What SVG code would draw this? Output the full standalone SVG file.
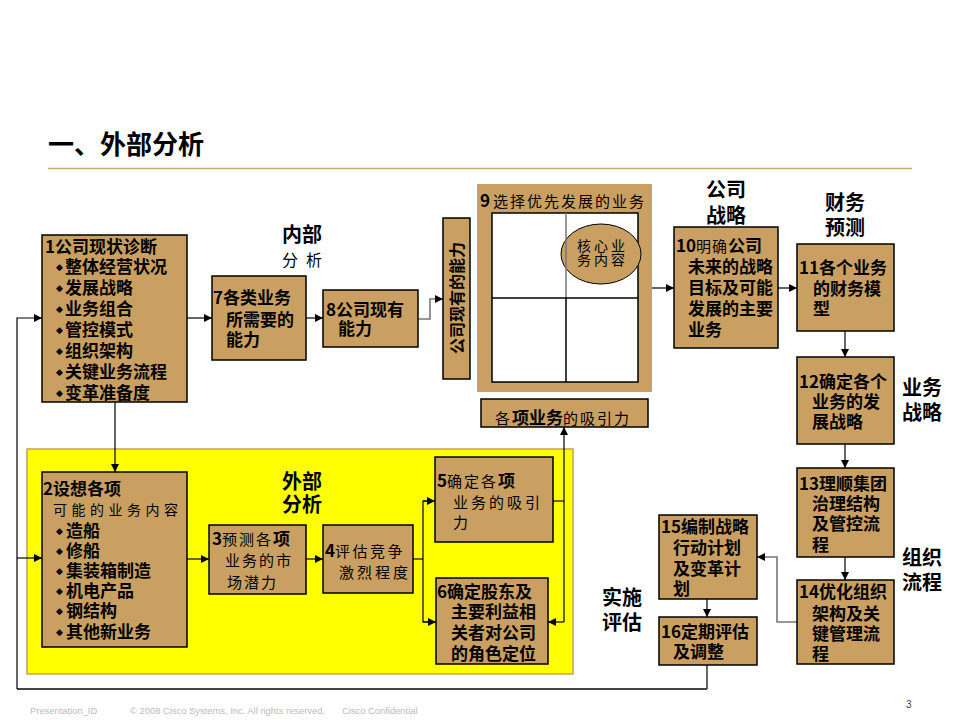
<svg xmlns="http://www.w3.org/2000/svg" width="960" height="720" viewBox="0 0 960 720">
<style>
.t{font-family:"Noto Sans CJK SC","Liberation Sans",sans-serif;font-size:17px;font-weight:700;fill:#000}
.n{font-weight:400;font-size:15px;letter-spacing:2px}
.lb{font-size:20px}
.bu{font-family:"DejaVu Sans",sans-serif;font-size:9px;font-weight:400}
.box{fill:#C9A062;stroke:#000;stroke-width:1.5}
.ln{fill:none;stroke:#000;stroke-width:1.2}
.gl{fill:none;stroke:#777;stroke-width:1.6}
.ft{font-family:"Liberation Sans",sans-serif;font-size:9.4px;fill:#bbb}
</style>
<defs>
<marker id="arr" viewBox="0 0 10 10" refX="10" refY="5" markerWidth="9" markerHeight="8" markerUnits="userSpaceOnUse" orient="auto"><path d="M0,0 L10,5 L0,10 z" fill="#000"/></marker>
</defs>
<rect width="960" height="720" fill="#fff"/>
<text class="t" x="48" y="154" style="font-size:26px">一、外部分析</text>
<line x1="48" y1="168.5" x2="912" y2="168.5" stroke="#C8A96A" stroke-width="1.5"/>

<rect id="yellow" x="27" y="449" width="546" height="225" fill="#FFFF00" stroke="#C8A060" stroke-width="1.5"/>

<g id="connectors">
<line class="ln" x1="187" y1="318" x2="212" y2="318" marker-end="url(#arr)"/>
<line class="ln" x1="306" y1="318" x2="323" y2="318" marker-end="url(#arr)"/>
<polyline class="gl" points="418,319 430,319 430,299 443,299" marker-end="url(#arr)"/>
<line class="ln" x1="652" y1="288" x2="674" y2="288" marker-end="url(#arr)"/>
<line class="ln" x1="778" y1="288" x2="797" y2="288" marker-end="url(#arr)"/>
<line class="ln" x1="845" y1="331" x2="845" y2="357" marker-end="url(#arr)"/>
<line class="ln" x1="845" y1="444" x2="845" y2="468" marker-end="url(#arr)"/>
<line class="ln" x1="845" y1="557" x2="845" y2="580" marker-end="url(#arr)"/>
<polyline class="gl" points="797,622 777,622 777,557 757,557" marker-end="url(#arr)"/>
<line class="ln" x1="707" y1="599" x2="707" y2="617" marker-end="url(#arr)"/>
<polyline class="ln" points="707,665 707,689"/>
<line x1="707" y1="689" x2="17" y2="689" stroke="#444" stroke-width="2"/>
<polyline class="ln" points="17,689 17,318 42,318" marker-end="url(#arr)"/>
<line class="ln" x1="17" y1="558" x2="42" y2="558" marker-end="url(#arr)"/>
<line class="ln" x1="115" y1="402" x2="115" y2="472" marker-end="url(#arr)"/>
<line class="ln" x1="187" y1="559" x2="209" y2="559" marker-end="url(#arr)"/>
<line class="ln" x1="306" y1="559" x2="323" y2="559" marker-end="url(#arr)"/>
<polyline class="ln" points="413,559 423,559"/>
<polyline class="ln" points="435,501 423,501 423,622 436,622"/>
<line class="ln" x1="423" y1="501" x2="435" y2="501" marker-end="url(#arr)"/>
<line class="ln" x1="423" y1="622" x2="436" y2="622" marker-end="url(#arr)"/>
<polyline class="ln" points="553,501 564,501"/>
<line class="ln" x1="564" y1="622" x2="564" y2="427" marker-end="url(#arr)"/>
<line class="ln" x1="564" y1="622" x2="548" y2="622" marker-end="url(#arr)"/>
</g>

<g id="n1">
<rect class="box" x="42" y="235" width="145" height="167"/>
<text class="t" x="45" y="252.5">1公司现状诊断</text>
<text class="t" x="56" y="270"><tspan class="bu">◆</tspan><tspan x="65" y="273">整体经营状况</tspan></text>
<text class="t" x="56" y="291"><tspan class="bu">◆</tspan><tspan x="65" y="294">发展战略</tspan></text>
<text class="t" x="56" y="312"><tspan class="bu">◆</tspan><tspan x="65" y="315">业务组合</tspan></text>
<text class="t" x="56" y="333"><tspan class="bu">◆</tspan><tspan x="65" y="336">管控模式</tspan></text>
<text class="t" x="56" y="354"><tspan class="bu">◆</tspan><tspan x="65" y="357">组织架构</tspan></text>
<text class="t" x="56" y="375"><tspan class="bu">◆</tspan><tspan x="65" y="378">关键业务流程</tspan></text>
<text class="t" x="56" y="396"><tspan class="bu">◆</tspan><tspan x="65" y="399">变革准备度</tspan></text>
</g>

<g id="n7">
<rect class="box" x="212" y="276" width="94" height="84"/>
<text class="t" x="213" y="304">7各类业务</text>
<text class="t" x="226" y="326">所需要的</text>
<text class="t" x="226" y="346">能力</text>
</g>

<g id="n8">
<rect class="box" x="323" y="290" width="95" height="57"/>
<text class="t" x="326" y="316">8公司现有</text>
<text class="t" x="338" y="335">能力</text>
</g>

<g id="nv">
<rect class="box" x="443" y="218" width="27" height="161"/>
<text class="t" style="font-size:16px" text-anchor="middle" transform="translate(456.5,298) rotate(-90)" y="6">公司现有的能力</text>
</g>

<g id="n9">
<rect x="477" y="184" width="175" height="208" fill="#C9A062"/>
<text class="t" x="480" y="207">9<tspan class="n" x="493">选择优先发展的业务</tspan></text>
<rect x="492" y="213" width="146" height="169" fill="#fff" stroke="#000" stroke-width="1.5"/>
<ellipse cx="601" cy="254" rx="40" ry="30" fill="#C9A062" stroke="#000" stroke-width="1"/>
<line x1="566" y1="213" x2="566" y2="298" stroke="#777" stroke-width="1.5"/>
<line x1="566" y1="298" x2="566" y2="382" stroke="#000" stroke-width="1.5"/>
<line x1="492" y1="298" x2="638" y2="298" stroke="#000" stroke-width="1.5"/>
<text class="t n" style="font-size:14px;letter-spacing:3px" x="602.5" y="251" text-anchor="middle">核心业</text>
<text class="t n" style="font-size:14px;letter-spacing:3px" x="602.5" y="265" text-anchor="middle">务内容</text>
</g>

<g id="nattr">
<rect class="box" x="481" y="399" width="167" height="28"/>
<text class="t" x="495" y="424"><tspan class="n">各</tspan>项业务<tspan class="n">的吸引力</tspan></text>
</g>

<g id="n10">
<rect class="box" x="674" y="227" width="104" height="121"/>
<text class="t" x="676" y="252">10<tspan class="n" style="letter-spacing:1px">明确</tspan>公司</text>
<text class="t" x="688" y="273">未来的战略</text>
<text class="t" x="688" y="294">目标及可能</text>
<text class="t" x="688" y="315">发展的主要</text>
<text class="t" x="688" y="336">业务</text>
</g>

<g id="n11">
<rect class="box" x="797" y="244" width="97" height="87"/>
<text class="t" x="799" y="274">11各个业务</text>
<text class="t" x="813" y="295">的财务模</text>
<text class="t" x="813" y="315">型</text>
</g>

<g id="n12">
<rect class="box" x="797" y="357" width="97" height="87"/>
<text class="t" x="799" y="388">12确定各个</text>
<text class="t" x="812" y="408">业务的发</text>
<text class="t" x="812" y="428">展战略</text>
</g>

<g id="n13">
<rect class="box" x="797" y="468" width="97" height="89"/>
<text class="t" x="799" y="490">13理顺集团</text>
<text class="t" x="812" y="510">治理结构</text>
<text class="t" x="812" y="530">及管控流</text>
<text class="t" x="812" y="551">程</text>
</g>

<g id="n14">
<rect class="box" x="797" y="580" width="97" height="84"/>
<text class="t" x="799" y="598">14优化组织</text>
<text class="t" x="812" y="620">架构及关</text>
<text class="t" x="812" y="640">键管理流</text>
<text class="t" x="812" y="660">程</text>
</g>

<g id="n15">
<rect class="box" x="659" y="515" width="98" height="84"/>
<text class="t" x="661" y="533">15编制战略</text>
<text class="t" x="673" y="554">行动计划</text>
<text class="t" x="673" y="575">及变革计</text>
<text class="t" x="673" y="595">划</text>
</g>

<g id="n16">
<rect class="box" x="659" y="617" width="98" height="48"/>
<text class="t" x="661" y="638">16定期评估</text>
<text class="t" x="673" y="658">及调整</text>
</g>

<g id="n2">
<rect class="box" x="42" y="472" width="145" height="175"/>
<text class="t" x="43" y="495">2设想各项</text>
<text class="t n" style="font-size:14px;letter-spacing:4.5px" x="53" y="515">可能的业务内容</text>
<text class="t" x="56" y="534"><tspan class="bu">◆</tspan><tspan x="66" y="537">造船</tspan></text>
<text class="t" x="56" y="554"><tspan class="bu">◆</tspan><tspan x="66" y="557">修船</tspan></text>
<text class="t" x="56" y="574"><tspan class="bu">◆</tspan><tspan x="66" y="577">集装箱制造</tspan></text>
<text class="t" x="56" y="594"><tspan class="bu">◆</tspan><tspan x="66" y="597">机电产品</tspan></text>
<text class="t" x="56" y="614"><tspan class="bu">◆</tspan><tspan x="66" y="617">钢结构</tspan></text>
<text class="t" x="56" y="635"><tspan class="bu">◆</tspan><tspan x="66" y="638">其他新业务</tspan></text>
</g>

<g id="n3">
<rect class="box" x="209" y="525" width="97" height="69"/>
<text class="t" x="212" y="545">3<tspan class="n">预测各</tspan>项</text>
<text class="t n" x="225" y="566">业务的市</text>
<text class="t n" x="227" y="588">场潜力</text>
</g>

<g id="n4">
<rect class="box" x="323" y="525" width="90" height="68"/>
<text class="t" x="325" y="557">4<tspan class="n" style="letter-spacing:2.5px">评估竞争</tspan></text>
<text class="t n" style="letter-spacing:3px" x="339" y="578">激烈程度</text>
</g>

<g id="n5">
<rect class="box" x="435" y="457" width="118" height="85"/>
<text class="t" x="437" y="487">5<tspan class="n">确定各</tspan>项</text>
<text class="t n" style="letter-spacing:3px" x="453" y="508">业务的吸引</text>
<text class="t n" x="453" y="528">力</text>
</g>

<g id="n6">
<rect class="box" x="436" y="578" width="112" height="86"/>
<text class="t" x="437" y="598">6确定股东及</text>
<text class="t" x="451" y="618">主要利益相</text>
<text class="t" x="451" y="639">关者对公司</text>
<text class="t" x="451" y="660">的角色定位</text>
</g>

<g id="labels">
<text class="t lb" x="282" y="242">内部</text>
<text class="t n" style="font-size:16px;letter-spacing:8px" x="282" y="266">分析</text>
<text class="t lb" x="282" y="489">外部</text>
<text class="t lb" x="282" y="512">分析</text>
<text class="t lb" x="706" y="197">公司</text>
<text class="t lb" x="706" y="223">战略</text>
<text class="t lb" x="825" y="210">财务</text>
<text class="t lb" x="825" y="235">预测</text>
<text class="t lb" x="902" y="395">业务</text>
<text class="t lb" x="902" y="420">战略</text>
<text class="t lb" x="902" y="565">组织</text>
<text class="t lb" x="902" y="590">流程</text>
<text class="t lb" x="602" y="605">实施</text>
<text class="t lb" x="602" y="630">评估</text>
</g>

<g id="footer">
<text class="ft" x="30" y="714">Presentation_ID</text>
<text class="ft" x="130" y="714">© 2008 Cisco Systems, Inc. All rights reserved.</text>
<text class="ft" x="342" y="714">Cisco Confidential</text>
<text x="906" y="708" style="font-family:'Liberation Sans',sans-serif;font-size:10px;fill:#444">3</text>
</g>
</svg>
